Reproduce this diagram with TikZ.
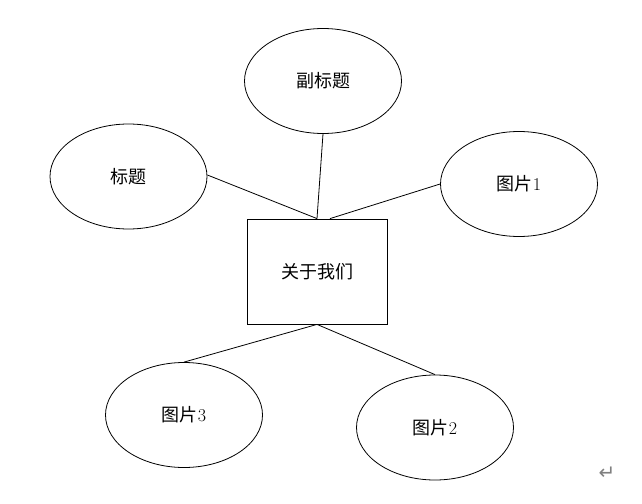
\documentclass[tikz,border=0pt]{standalone}
\usepackage{fontspec}
\newfontfamily\cjk{Noto Sans CJK SC}
\newfontfamily\symfont{DejaVu Sans}
\usetikzlibrary{calc, positioning, shapes.geometric}

\begin{document}
\begin{tikzpicture}[x=1pt, y=-1pt,
  bubble/.style={draw=black, line width=0.8pt, ellipse, minimum width=157pt, minimum height=105pt, inner sep=0pt, font=\fontsize{18}{20}\selectfont},
  centerbox/.style={draw=black, line width=0.8pt, rectangle, minimum width=140pt, minimum height=105pt, inner sep=0pt, font=\fontsize{18}{20}\selectfont},
  link/.style={draw=black, line width=0.8pt}]
\useasboundingbox (0,0) rectangle (642,503);

% Centre box
\node[centerbox] (about) at (317, 271.5) {\cjk 关于我们};

% Surrounding ellipses
\node[bubble] (subtitle) at (323, 81) {\cjk 副标题};
\node[bubble] (title) at (128.5, 176.5) {\cjk 标题};
\node[bubble] (pic1) at (519, 184) {{\cjk 图片}1};
\node[bubble] (pic3) at (184, 415) {{\cjk 图片}3};
\node[bubble] (pic2) at (435, 427.5) {{\cjk 图片}2};

% Connectors
\draw[link] ([yshift=1.5pt]title.east) -- (about.north);
\draw[link] (subtitle.south) -- (about.north);
\draw[link] (pic1.west) -- ([xshift=13pt]about.north);
\draw[link] (about.south) -- (pic3.north);
\draw[link] (about.south) -- (pic2.north);

% Paragraph mark
\node[text=gray, font=\symfont\fontsize{20}{22}\selectfont] (mark) at (607, 473) {↵};
\end{tikzpicture}
\end{document}
